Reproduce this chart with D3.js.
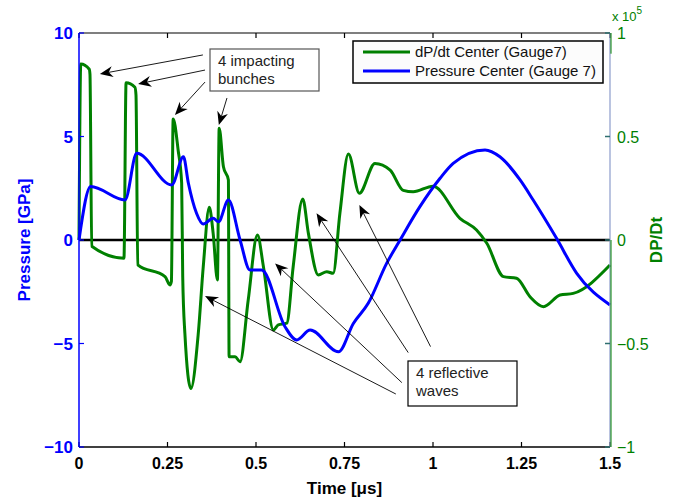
<!DOCTYPE html>
<html>
<head>
<meta charset="utf-8">
<script src="https://cdn.jsdelivr.net/npm/d3@7.9.0/dist/d3.min.js"></script>
<style>
  body { margin: 0; background: #fff; }
  svg { display: block; font-family: "Liberation Sans", Arial, Helvetica, sans-serif; }
</style>
</head>
<body>
<div id="chart"></div>
<script>
// Pressure at the center gauge [GPa] vs time [us]
const pressureTime = [0, 0.033, 0.13, 0.163, 0.262, 0.295, 0.309, 0.332, 0.351, 0.379, 0.394, 0.422,
  0.455, 0.483, 0.516, 0.582, 0.615, 0.653, 0.733, 0.775, 0.817, 0.869, 0.907, 0.963, 1.02,
  1.057, 1.147, 1.189, 1.246, 1.283, 1.349, 1.406, 1.5];
const pressureValues = [0, 2.58, 1.93, 4.19, 2.66, 4.02, 2.74, 1.29, 0.77, 1.05, 0.88, 1.93,
  0, -1.45, -1.45, -4.19, -4.83, -4.35, -5.40, -4.03, -3.06, -1.13, 0, 1.61, 2.98,
  3.70, 4.35, 4.02, 2.90, 1.93, 0.08, -1.61, -3.14];

// dP/dt at the center gauge [x 1e5]
const rateTime = [0, 0.005, 0.029, 0.031, 0.036, 0.127, 0.133, 0.158, 0.161, 0.166, 0.243, 0.257,
  0.261, 0.266, 0.28, 0.29, 0.293, 0.299, 0.316, 0.337, 0.351, 0.368, 0.379, 0.391, 0.396,
  0.408, 0.422, 0.424, 0.441, 0.455, 0.478, 0.504, 0.521, 0.549, 0.563, 0.587, 0.605, 0.632,
  0.648, 0.676, 0.70, 0.718, 0.737, 0.761, 0.792, 0.836, 0.879, 0.916, 0.944, 1.0, 1.076,
  1.123, 1.152, 1.199, 1.236, 1.274, 1.312, 1.359, 1.396, 1.5];
const rateValues = [0, 0.85, 0.825, 0.80, -0.03, -0.088, 0.76, 0.738, 0.70, -0.12, -0.177, -0.217,
  -0.2, 0.585, 0.435, 0.275, -0.177, -0.449, -0.717, -0.45, -0.129, 0.158, 0.032, -0.193, 0.54,
  0.354, 0.29, -0.564, -0.564, -0.588, -0.29, 0.024, -0.129, -0.435, -0.41, -0.402, -0.129, 0.198,
  0.032, -0.169, -0.153, -0.161, 0.129, 0.415, 0.226, 0.37, 0.338, 0.24, 0.233, 0.26, 0.105,
  0.048, -0.016, -0.177, -0.185, -0.274, -0.322, -0.266, -0.258, -0.121];

const xTicks = [0, 0.25, 0.5, 0.75, 1, 1.25, 1.5];
const xTickLabels = ['0', '0.25', '0.5', '0.75', '1', '1.25', '1.5'];
const leftTicks = [10, 5, 0, -5, -10];
const rightTicks = [1, 0.5, 0, -0.5, -1];

const legendLabels = ['dP/dt Center (Gauge7)', 'Pressure Center (Gauge 7)'];

// annotation arrows, [tailT, tailP, tipT, tipP] in pressure coordinates
const impactArrows = [
  [0.350, 8.94, 0.059, 8.02],
  [0.356, 8.21, 0.167, 7.54],
  [0.356, 7.63, 0.271, 6.04],
  [0.418, 6.86, 0.395, 5.56],
];
const reflectArrows = [
  [0.895, -7.44, 0.356, -2.71],
  [0.912, -6.89, 0.554, -1.13],
  [0.930, -5.44, 0.671, 1.29],
  [0.993, -5.15, 0.792, 1.69],
];

const BLUE = '#0000ff';
const GREEN = '#008000';

const width = 675, height = 499;
const margin = { top: 33, right: 65, bottom: 52, left: 79 };
const plotRight = width - margin.right;
const plotBottom = height - margin.bottom;

const svg = d3.select('#chart').append('svg')
  .attr('width', width)
  .attr('height', height);

const x = d3.scaleLinear().domain([0, 1.5]).range([margin.left, plotRight]);
const yLeft = d3.scaleLinear().domain([-10, 10]).range([plotBottom, margin.top]);
const yRight = d3.scaleLinear().domain([-1, 1]).range([plotBottom, margin.top]);

// zero line
svg.append('line')
  .attr('x1', x(0)).attr('x2', x(1.5))
  .attr('y1', yLeft(0)).attr('y2', yLeft(0))
  .attr('stroke', '#000').attr('stroke-width', 2.5);

// series
const rateData = rateTime.map((t, i) => [t, rateValues[i]]);
const pressureData = pressureTime.map((t, i) => [t, pressureValues[i]]);

svg.append('path')
  .datum(rateData)
  .attr('fill', 'none')
  .attr('stroke', GREEN)
  .attr('stroke-width', 3)
  .attr('stroke-linejoin', 'round')
  .attr('d', d3.line().x(d => x(d[0])).y(d => yRight(d[1])).curve(d3.curveMonotoneX));

svg.append('path')
  .datum(pressureData)
  .attr('fill', 'none')
  .attr('stroke', BLUE)
  .attr('stroke-width', 3)
  .attr('stroke-linejoin', 'round')
  .attr('d', d3.line().x(d => x(d[0])).y(d => yLeft(d[1])).curve(d3.curveMonotoneX));

// frame: top and bottom in black
svg.append('line').attr('x1', x(0)).attr('x2', x(1.5)).attr('y1', margin.top).attr('y2', margin.top)
  .attr('stroke', '#000').attr('stroke-width', 1.2);
svg.append('line').attr('x1', x(0)).attr('x2', x(1.5)).attr('y1', plotBottom).attr('y2', plotBottom)
  .attr('stroke', '#000').attr('stroke-width', 1.5);

// x ticks (inside, bottom and top)
const xAxisG = svg.append('g');
xTicks.forEach((t, i) => {
  xAxisG.append('line').attr('x1', x(t)).attr('x2', x(t)).attr('y1', plotBottom).attr('y2', plotBottom - 5)
    .attr('stroke', '#000').attr('stroke-width', 1.2);
  xAxisG.append('line').attr('x1', x(t)).attr('x2', x(t)).attr('y1', margin.top).attr('y2', margin.top + 5)
    .attr('stroke', '#000').attr('stroke-width', 1.2);
  xAxisG.append('text')
    .attr('x', x(t)).attr('y', plotBottom + 22)
    .attr('text-anchor', 'middle')
    .attr('font-size', 16).attr('font-weight', 'bold').attr('fill', '#000')
    .text(xTickLabels[i]);
});

// left axis (blue)
svg.append('line').attr('x1', x(0)).attr('x2', x(0)).attr('y1', margin.top).attr('y2', plotBottom)
  .attr('stroke', BLUE).attr('stroke-width', 1.5);
leftTicks.forEach(v => {
  svg.append('line').attr('x1', x(0)).attr('x2', x(0) + 5).attr('y1', yLeft(v)).attr('y2', yLeft(v))
    .attr('stroke', BLUE).attr('stroke-width', 1.2);
  svg.append('text')
    .attr('x', x(0) - 6).attr('y', yLeft(v) + 6)
    .attr('text-anchor', 'end')
    .attr('font-size', 17).attr('font-weight', 'bold').attr('fill', BLUE)
    .text(v < 0 ? '\u2212' + Math.abs(v) : String(v));
});

// right axis (green)
svg.append('line').attr('x1', plotRight).attr('x2', plotRight).attr('y1', margin.top).attr('y2', plotBottom)
  .attr('stroke', '#8c9ccc').attr('stroke-width', 1.2);
svg.append('line').attr('x1', plotRight + 1).attr('x2', plotRight + 1).attr('y1', yRight(0)).attr('y2', plotBottom)
  .attr('stroke', GREEN).attr('stroke-width', 1);
svg.append('line').attr('x1', plotRight + 1).attr('x2', plotRight + 1).attr('y1', margin.top).attr('y2', yRight(0.9))
  .attr('stroke', GREEN).attr('stroke-width', 1);
rightTicks.forEach(v => {
  svg.append('line').attr('x1', plotRight).attr('x2', plotRight - 5).attr('y1', yRight(v)).attr('y2', yRight(v))
    .attr('stroke', '#2f6f6f').attr('stroke-width', 1.5);
  svg.append('text')
    .attr('x', plotRight + 7).attr('y', yRight(v) + 6)
    .attr('text-anchor', 'start')
    .attr('font-size', 16).attr('fill', GREEN)
    .text(v < 0 ? '\u2212' + Math.abs(v) : String(v));
});
const expo = svg.append('text')
  .attr('x', plotRight + 2).attr('y', 21)
  .attr('font-size', 13).attr('fill', GREEN);
expo.append('tspan').text('x 10');
expo.append('tspan').attr('dy', -7).attr('font-size', 10).text('5');

// axis labels
svg.append('text')
  .attr('transform', `translate(30, ${yLeft(0)}) rotate(-90)`)
  .attr('text-anchor', 'middle')
  .attr('font-size', 17).attr('font-weight', 'bold').attr('fill', BLUE)
  .text('Pressure [GPa]');
svg.append('text')
  .attr('transform', `translate(662, ${yRight(0)}) rotate(-90)`)
  .attr('text-anchor', 'middle')
  .attr('font-size', 17).attr('font-weight', 'bold').attr('fill', GREEN)
  .text('DP/Dt');
svg.append('text')
  .attr('x', x(0.75)).attr('y', 494)
  .attr('text-anchor', 'middle')
  .attr('font-size', 17).attr('font-weight', 'bold').attr('fill', '#000')
  .text('Time [\u03bcs]');

// legend
const legend = svg.append('g').attr('transform', 'translate(353, 41)');
legend.append('rect').attr('width', 250).attr('height', 42)
  .attr('fill', '#fcfcfc').attr('stroke', '#000').attr('stroke-width', 1.5);
[GREEN, BLUE].forEach((c, i) => {
  legend.append('line').attr('x1', 10).attr('x2', 57).attr('y1', 11 + i * 19).attr('y2', 11 + i * 19)
    .attr('stroke', c).attr('stroke-width', 3);
  legend.append('text').attr('x', 62).attr('y', 16 + i * 19)
    .attr('font-size', 15).attr('fill', '#111')
    .text(legendLabels[i]);
});

// annotation boxes
function textBox(left, top, w, h, lines, stroke) {
  const g = svg.append('g').attr('transform', `translate(${left}, ${top})`);
  g.append('rect').attr('width', w).attr('height', h)
    .attr('fill', '#fff').attr('stroke', stroke).attr('stroke-width', 1.2);
  lines.forEach((s, i) => {
    g.append('text').attr('x', 8).attr('y', 17 + i * 18)
      .attr('font-size', 15).attr('fill', '#222').text(s);
  });
}

function arrow(a) {
  const x1 = x(a[0]), y1 = yLeft(a[1]), x2 = x(a[2]), y2 = yLeft(a[3]);
  const dx = x2 - x1, dy = y2 - y1;
  const len = Math.hypot(dx, dy);
  const ux = dx / len, uy = dy / len;
  const px = -uy, py = ux;
  const L = 13, W = 5.5, N = 9;
  svg.append('line')
    .attr('x1', x1).attr('y1', y1)
    .attr('x2', x2 - ux * N).attr('y2', y2 - uy * N)
    .attr('stroke', '#000').attr('stroke-width', 0.9);
  const pts = [
    [x2, y2],
    [x2 - ux * L + px * W, y2 - uy * L + py * W],
    [x2 - ux * N, y2 - uy * N],
    [x2 - ux * L - px * W, y2 - uy * L - py * W],
  ];
  svg.append('path').attr('d', 'M' + pts.map(p => p.join(',')).join('L') + 'Z').attr('fill', '#000');
}

impactArrows.forEach(arrow);
reflectArrows.forEach(arrow);

textBox(210, 49, 109, 42, ['4 impacting', 'bunches'], '#555');
textBox(408, 361, 109, 45, ['4 reflective', 'waves'], '#000');
</script>
</body>
</html>
